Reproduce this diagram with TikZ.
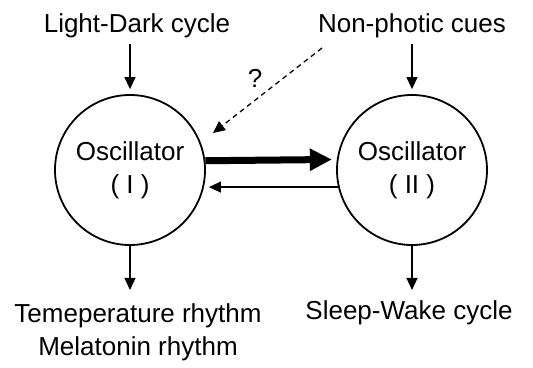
\documentclass[tikz,border=0pt]{standalone}
\usepackage{fontspec}
\setmainfont{Liberation Sans}
\usetikzlibrary{arrows.meta,calc}
\definecolor{figline}{RGB}{0,0,0}
\tikzset{
  osc/.style ={circle, draw=figline, line width=1.8pt, minimum size=150pt, inner sep=0pt, align=center, font=\fontsize{26}{33}\selectfont},
  lab/.style ={font=\fontsize{26}{33}\selectfont, inner sep=2pt, align=center},
  ptr/.style ={draw=figline, line width=1.3pt, -{Triangle[length=12pt,width=11pt]}},
  ptrb/.style={draw=figline, line width=7pt, -{Triangle[length=22pt,width=21pt]}},
  ptrd/.style={ptr, dash pattern=on 5pt off 4pt},
}
\begin{document}
\begin{tikzpicture}[x=1pt,y=1pt]
  \useasboundingbox (0,0) rectangle (533,367);
  \node[osc] (osc1) at (130,197) {Oscillator\\( I )};
  \node[osc] (osc2) at (412,197) {Oscillator\\( II )};
  \node[lab,anchor=base] (ldc) at (137,334) {Light-Dark cycle};
  \node[lab,anchor=base] (npc) at (412,334) {Non-photic cues};
  \node[lab,anchor=north] (trm) at (138,66) {Temeperature rhythm\\Melatonin rhythm};
  \node[lab,anchor=base] (swc) at (409,47) {Sleep-Wake cycle};
  \node[lab] (qm) at (255,289) {?};
  \coordinate (qs) at (322,319);
  \coordinate (qe) at (213,234);
  % inputs
  \draw[ptr,shorten <=3pt,shorten >=5pt] (ldc.south -| osc1) -- (osc1.north);
  \draw[ptr,shorten <=3pt,shorten >=5pt] (npc.south -| osc2) -- (osc2.north);
  \draw[ptrd] (qs) -- (qe);
  % coupling
  \draw[ptrb,shorten >=5pt] (osc1.7.7) -- (osc2.172.3);
  \draw[ptr,shorten >=5pt] (osc2.193) -- (osc1.-13);
  % outputs
  \draw[ptr,shorten >=11pt] (osc1.south) -- (osc1.south |- trm.north);
  \draw[ptr,shorten >=9pt] (osc2.south) -- (osc2.south |- swc.north);
\end{tikzpicture}
\end{document}
